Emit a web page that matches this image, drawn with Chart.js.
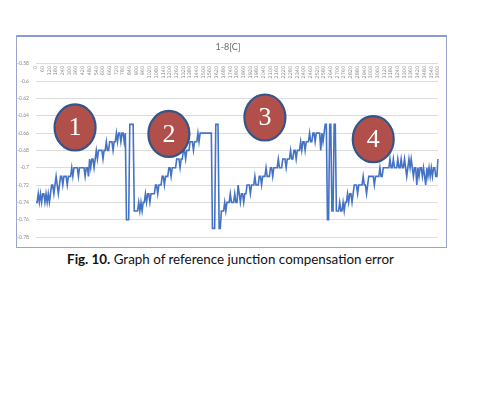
<!DOCTYPE html>
<html>
<head>
<meta charset="utf-8">
<script src="https://cdn.jsdelivr.net/npm/chart.js@4/dist/chart.umd.min.js"></script>
<style>
  html, body { margin: 0; padding: 0; background: #ffffff; }
  body { width: 480px; height: 394px; position: relative; overflow: hidden; }
  #frame { position: absolute; left: 16px; top: 35px; width: 429px; height: 210px;
           border: 1px solid #9aa4cf; border-top: 2px solid #8e9ad0; background: #fff; }
  #frame canvas { display: block; }
  #caption { position: absolute; left: 0; top: 250px; width: 461px; text-align: center;
             font-family: Lato, "Open Sans", sans-serif; font-size: 13.4px; line-height: 18px; color: #111; }
</style>
</head>
<body>
<div id="frame"><canvas id="c" width="429" height="210"></canvas></div>
<div id="caption"><b>Fig. 10.</b> Graph of reference junction compensation error</div>
<script>
// ---- data (sampled every 10 s, error in °C) ----
const cycle1 = [
  -0.74,-0.74,-0.73,-0.74,-0.73,-0.74,-0.73,-0.73,-0.74,-0.73,-0.74,-0.73,-0.74,-0.73,
  -0.72,-0.72,-0.73,-0.72,-0.71,-0.72,
  -0.73,-0.72,-0.71,-0.71,-0.72,-0.71,-0.71,-0.71,-0.72,-0.71,-0.71,-0.71,
  -0.70,-0.71,-0.70,-0.70,-0.70,-0.70,-0.71,-0.70,-0.70,-0.70,-0.70,-0.70,-0.71,-0.70,-0.70,-0.71,
  -0.69,-0.70,-0.69,-0.69,-0.70,-0.69,
  -0.68,-0.69,-0.68,-0.68,
  -0.68,-0.68,-0.69,-0.68,-0.68,-0.67,-0.68,-0.68,-0.67,
  -0.67,-0.67,-0.68,-0.67,-0.67,-0.66,-0.67,
  -0.66,-0.66,-0.67,-0.66,-0.66,-0.67,-0.66,
  -0.76,-0.76,-0.76,
  -0.65,-0.65,-0.65,-0.65
];
const cycle2 = [
  -0.75,-0.75,-0.75,-0.75,-0.74,-0.75,
  -0.74,-0.75,-0.74,-0.74,
  -0.73,-0.74,-0.73,-0.73,-0.74,-0.73,-0.73,
  -0.73,-0.73,-0.72,-0.72,-0.73,-0.72,-0.72,
  -0.72,-0.71,-0.71,-0.72,-0.71,-0.71,
  -0.71,-0.70,-0.70,-0.71,-0.70,-0.70,-0.70,-0.70,-0.69,
  -0.69,-0.69,-0.70,-0.69,-0.69,
  -0.68,-0.68,-0.69,-0.68,-0.68,-0.68,-0.67,
  -0.67,-0.67,-0.68,-0.67,-0.67,-0.67,-0.66,-0.67,
  -0.66,-0.66,-0.66,-0.66,-0.66,-0.66,-0.66,-0.66,-0.66,-0.66,-0.66,
  -0.77,-0.77,-0.77,
  -0.65,-0.65,-0.65,
  -0.77,-0.77
];
const cycle3 = [
  -0.75,-0.75,
  -0.75,-0.74,-0.75,-0.74,
  -0.74,-0.74,-0.73,-0.74,-0.74,-0.74,-0.73,-0.74,-0.74,
  -0.72,
  -0.73,-0.74,-0.73,-0.73,-0.74,-0.73,-0.73,-0.72,
  -0.72,-0.72,-0.73,-0.72,-0.72,-0.72,-0.71,-0.72,-0.72,-0.72,
  -0.71,-0.71,-0.72,-0.71,-0.71,-0.71,-0.70,-0.71,-0.71,-0.71,
  -0.70,-0.70,-0.71,-0.70,-0.70,-0.70,-0.70,-0.69,-0.70,-0.70,-0.70,-0.69,
  -0.69,-0.69,-0.70,-0.69,-0.69,-0.69,-0.68,-0.69,-0.69,
  -0.68,-0.68,-0.69,-0.68,-0.68,-0.68,-0.67,-0.68,
  -0.67,-0.67,-0.68,-0.67,-0.67,-0.67,-0.66,-0.67,-0.67,
  -0.66,-0.66,-0.67,-0.66,-0.66,-0.66,-0.66,-0.68,-0.66,-0.67,-0.66,-0.65,
  -0.65,
  -0.76,-0.76,
  -0.65,-0.65,
  -0.75,-0.75,
  -0.65,-0.65,
  -0.75
];
const cycle4 = [
  -0.75,-0.75,-0.74,-0.75,-0.75,-0.74,-0.75,-0.74,-0.74,
  -0.73,-0.74,-0.73,-0.73,-0.74,-0.73,-0.72,
  -0.72,-0.72,-0.73,-0.72,-0.72,-0.72,-0.72,-0.71,-0.72,-0.72,-0.73,-0.72,-0.71,-0.71,-0.71,
  -0.71,-0.71,-0.72,-0.71,-0.71,-0.71,-0.71,-0.70,-0.71,-0.71,-0.70,-0.70,-0.70,-0.70,
  -0.70,-0.70,-0.69,-0.70,-0.70,-0.69,-0.70,-0.70,-0.70,-0.69,-0.70,-0.70,-0.69,-0.70,-0.70,-0.69,-0.70,-0.71,-0.70,-0.69,
  -0.70,-0.69,-0.70,-0.71,-0.70,-0.70,-0.72,-0.70,-0.71,-0.70,-0.70,-0.71,-0.70,-0.71,-0.72,-0.70,-0.71,-0.70,-0.71,-0.70,-0.71,-0.70,-0.70,-0.71,-0.71,
  -0.69
];
const tickLabels = ['0','60','120','180','240','300','360','420','480','540','600','660','720','780','840','900',
  '960','1020','1080','1140','1200','1260','1320','1380','1440','1500','1560','1620','1680','1740','1800',
  '1860','1920','1980','2040','2100','2160','2220','2280','2340','2400','2460','2520','2580','2640','2700',
  '2760','2820','2880','2940','3000','3060','3120','3180','3240','3300','3360','3420','3480','3540','3600'];
const seriesTitle = '1-8[C]';
const markerLabels = ['1','2','3','4'];
const markerIndex  = [35, 119, 205, 302];
const markerValue  = [-0.6535, -0.661, -0.642, -0.667];

const values = [].concat(cycle1, cycle2, cycle3, cycle4);
const categories = values.map((v, i) => String(i * 10));
const tickSet = new Set(tickLabels);

const markerPlugin = {
  id: 'markers',
  afterDatasetsDraw(chart) {
    const { ctx, scales: { x, y } } = chart;
    markerLabels.forEach((lab, k) => {
      const px = x.getPixelForValue(markerIndex[k]);
      const py = y.getPixelForValue(markerValue[k]);
      ctx.save();
      ctx.beginPath();
      ctx.ellipse(px, py, 20.5, 23, 0, 0, Math.PI * 2);
      ctx.fillStyle = '#b1504a';
      ctx.fill();
      ctx.lineWidth = 2.2;
      ctx.strokeStyle = '#33558a';
      ctx.stroke();
      ctx.fillStyle = '#ffffff';
      ctx.font = '26px "Liberation Serif", serif';
      ctx.textAlign = 'center';
      ctx.textBaseline = 'middle';
      ctx.fillText(lab, px, py + 1);
      ctx.restore();
    });
  }
};

new Chart(document.getElementById('c'), {
  type: 'line',
  data: {
    labels: categories,
    datasets: [{
      label: seriesTitle,
      data: values,
      borderColor: '#4472c4',
      borderWidth: 1.6,
      pointRadius: 0,
      tension: 0,
      fill: false
    }]
  },
  options: {
    responsive: false,
    animation: false,
    layout: { padding: { left: 0, right: 7, top: 0, bottom: 8 } },
    plugins: {
      legend: { display: false },
      tooltip: { enabled: false },
      title: {
        display: true,
        text: seriesTitle,
        color: '#6b6b6b',
        font: { family: 'Lato, "Open Sans", sans-serif', size: 9, weight: 'normal' },
        padding: { top: 5, bottom: 11 }
      }
    },
    scales: {
      x: {
        type: 'category',
        position: { y: -0.58 },
        offset: false,
        grid: { display: false, drawTicks: false },
        border: { display: false },
        ticks: {
          autoSkip: false,
          maxRotation: 90,
          minRotation: 90,
          padding: 2,
          color: '#8a8a8a',
          font: { family: '"DejaVu Sans", sans-serif', size: 5 },
          callback: function (val, idx) {
            const lab = categories[idx];
            return tickSet.has(lab) ? lab : null;
          }
        }
      },
      y: {
        min: -0.78,
        max: -0.58,
        afterFit: (s) => { s.width = 19; },
        grid: { color: '#dcdcdc', lineWidth: 1, drawTicks: false },
        border: { display: false },
        ticks: {
          stepSize: 0.02,
          padding: 7,
          color: '#8a8a8a',
          font: { family: 'Lato, sans-serif', size: 5 },
          callback: (v) => String(Number(v.toFixed(2)))
        }
      }
    }
  },
  plugins: [markerPlugin]
});
</script>
</body>
</html>
